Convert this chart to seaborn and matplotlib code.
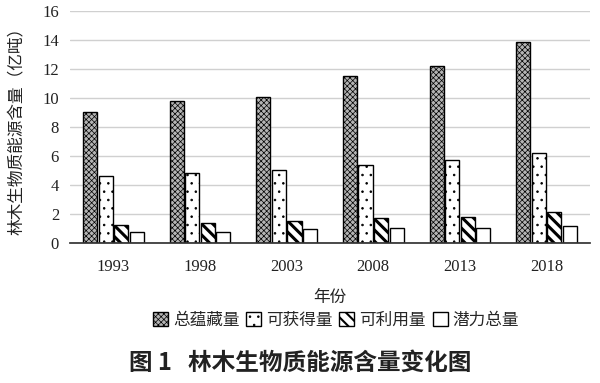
import numpy as np
import pandas as pd
import seaborn as sns
import matplotlib as mpl
import matplotlib.pyplot as plt
from matplotlib.patches import Patch

years = ["1993", "1998", "2003", "2008", "2013", "2018"]
series_names = ["总蕴藏量", "可获得量", "可利用量", "潜力总量"]
total = [9.0, 9.8, 10.1, 11.5, 12.2, 13.9]
accessible = [4.6, 4.8, 5.0, 5.4, 5.7, 6.2]
usable = [1.26, 1.35, 1.5, 1.7, 1.77, 2.14]
potential = [0.78, 0.78, 0.92, 0.99, 1.03, 1.17]

hatches = ["xxxxxx", "..", "\\\\\\", ""]
fills = ["#b4b4b4", "white", "white", "white"]
hatch_lw = [0.5, 0.6, 2.2, 0.6]

sns.set_theme(style="white")
plt.rcParams["font.family"] = ["Noto Sans CJK SC", "DejaVu Sans"]
plt.rcParams["hatch.linewidth"] = 0.6


def thick_hatch(p, lw):
    # hatch width is read at draw time in older matplotlib, so wrap draw
    orig = p.draw

    def draw(renderer):
        with mpl.rc_context({"hatch.linewidth": lw}):
            orig(renderer)
    p.draw = draw
    if hasattr(p, "set_hatch_linewidth"):
        p.set_hatch_linewidth(lw)


df = pd.DataFrame({
    "year": years * 4,
    "series": np.repeat(series_names, len(years)),
    "value": total + accessible + usable + potential,
})

fig = plt.figure(figsize=(6, 3.83), dpi=100)
ax = fig.add_axes([0.117, 0.366, 0.866, 0.605])

sns.barplot(data=df, x="year", y="value", hue="series", hue_order=series_names,
            order=years, palette=["white"] * 4, edgecolor="black", linewidth=1.0,
            width=0.72, gap=0.1, ax=ax, legend=False)

for cont, h, fc, lw in zip(ax.containers, hatches, fills, hatch_lw):
    for p in cont:
        p.set_hatch(h)
        p.set_facecolor(fc)
        thick_hatch(p, lw)

ax.set_ylim(0, 16)
ax.set_yticks(range(0, 17, 2))
ax.yaxis.grid(True, color="#d0d0d0", linewidth=1.0)
ax.set_axisbelow(True)
for s in ["top", "right", "left"]:
    ax.spines[s].set_visible(False)
ax.spines["bottom"].set_color("#333333")
ax.tick_params(axis="y", length=0, pad=8)
ax.tick_params(axis="x", length=0, pad=12)
for lab in ax.get_xticklabels() + ax.get_yticklabels():
    lab.set_fontfamily("Liberation Serif")
    lab.set_fontsize(12)
    lab.set_color("#222222")

ax.set_xlabel("年份", fontsize=12, color="#222222", labelpad=10)
ax.set_ylabel("林木生物质能源含量（亿吨）", fontsize=12, color="#222222", labelpad=12)

handles = []
for name, h, fc in zip(series_names, hatches, fills):
    handles.append(Patch(facecolor=fc, edgecolor="black", hatch=h, label=name))
leg = fig.legend(handles=handles, loc="center", bbox_to_anchor=(0.56, 0.163), ncol=4,
                 frameon=False, fontsize=12, handlelength=0.9, handleheight=0.9,
                 handletextpad=0.3, columnspacing=0.4)
for hp, lw in zip(leg.get_patches(), hatch_lw):
    thick_hatch(hp, min(lw, 1.5))

fig.text(0.5, 0.052, "图 1   林木生物质能源含量变化图", ha="center", va="center",
         fontsize=17, fontweight="bold", color="#222222")

fig.savefig("out.png", dpi=100)
